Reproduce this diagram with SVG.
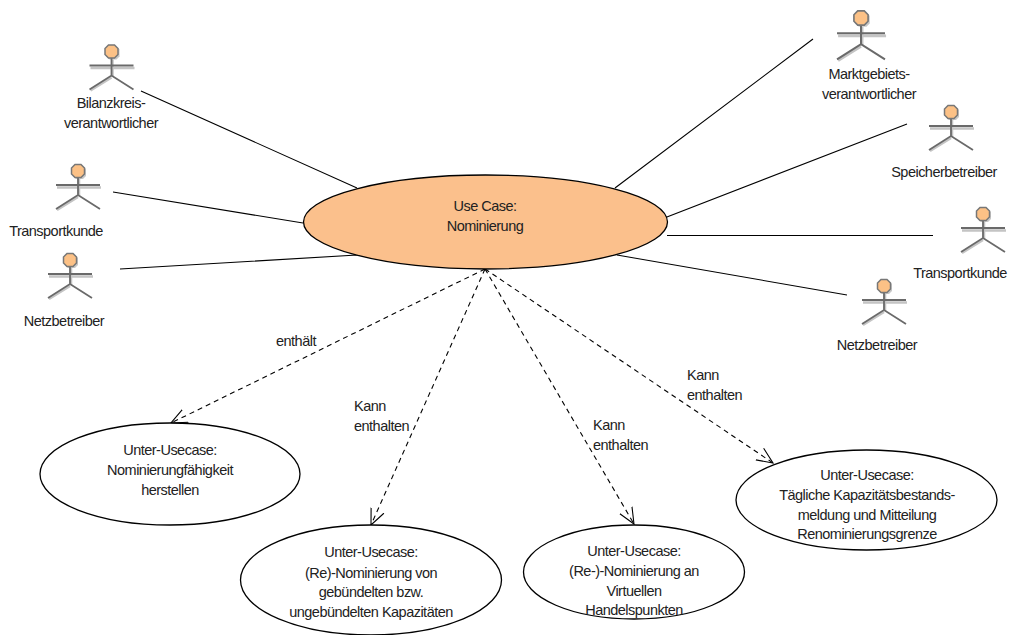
<svg xmlns="http://www.w3.org/2000/svg" width="1011" height="635" viewBox="0 0 1011 635">
<style>
text{font-family:"Liberation Sans",Arial,sans-serif;font-size:14.500px;fill:#222;text-anchor:middle;letter-spacing:-.52px}
.l{text-anchor:start}
.c{fill:none;stroke:#000;stroke-width:1.1}
.d{stroke-dasharray:5 4;marker-end:url(#o)}
.e{fill:#fff;stroke:#000;stroke-width:1.3}
.s{fill:none;stroke:#c4c4c4;stroke-width:2.500}
.a{fill:none;stroke:#6a6a6a;stroke-width:1.8}
.h{fill:#fcc186;stroke:#777;stroke-width:1.5}
.hs{fill:#c8c8c8}
</style>
<defs>
<marker id="o" markerUnits="userSpaceOnUse" markerWidth="20" markerHeight="20" refX="16" refY="8" orient="auto" viewBox="0 0 20 16"><path d="M0 1L16 8L0 15" fill="none" stroke="#000" stroke-width="1.1"/></marker>
<g id="actor">
<path class="hs" d="M-2-5H5L8-2V5L5 8H-2L-5 5V-2Z"/>
<path class="s" d="M-21 16.500H23M1 8V25M-21 39L0 26"/>
<path class="a" d="M-22 14H22M0 6V24M-22 38L0 24L22 38"/>
<path class="h" d="M-3-6.500H3L6.500-3V3L3 6.500H-3L-6.500 3V-3Z"/>
</g>
</defs>
<g id="connectors">
<path class="c" d="M141 91L357 188M113 192L303 223M120 269L357 255M813 39L615 188M907 124L654 222M933 235.500L667 235.500M847 295L617 255"/>
<path class="c d" d="M485 269L171 423"/>
<path class="c d" d="M485 269L371 525"/>
<path class="c d" d="M485 269L634 524"/>
<path class="c d" d="M485 269L773 463"/>
</g>
<g id="uc-main"><ellipse cx="485.500" cy="222" rx="182" ry="47" fill="#fbc08c" stroke="#000" stroke-width="1.3"/><text x="485" y="211">Use Case:</text><text x="485" y="231">Nominierung</text></g>
<g id="uc-1"><ellipse class="e" cx="170" cy="474" rx="130" ry="51"/><text x="170" y="455">Unter-Usecase:</text><text x="170" y="475">Nominierungfähigkeit</text><text x="170" y="495">herstellen</text></g>
<g id="uc-2"><ellipse class="e" cx="371" cy="580" rx="130.500" ry="55"/><text x="371" y="557">Unter-Usecase:</text><text x="371" y="578">(Re)-Nominierung von</text><text x="371" y="597">gebündelten bzw.</text><text x="371" y="617">ungebündelten Kapazitäten</text></g>
<g id="uc-3"><ellipse class="e" cx="634" cy="572" rx="110.500" ry="47"/><text x="634" y="556">Unter-Usecase:</text><text x="634" y="576">(Re-)-Nominierung an</text><text x="634" y="596">Virtuellen</text><text x="634" y="615">Handelspunkten</text></g>
<g id="uc-4"><ellipse class="e" cx="866.500" cy="500" rx="130.500" ry="50"/><text x="867" y="480">Unter-Usecase:</text><text x="867" y="500">Tägliche Kapazitätsbestands-</text><text x="867" y="520">meldung und Mitteilung</text><text x="867" y="539">Renominierungsgrenze</text></g>
<g id="actor-bilanz"><use href="#actor" x="111.500" y="51.500"/><text x="111" y="108">Bilanzkreis-</text><text x="111" y="128">verantwortlicher</text></g>
<g id="actor-transport-l"><use href="#actor" x="78" y="171"/><text x="56" y="236">Transportkunde</text></g>
<g id="actor-netz-l"><use href="#actor" x="70" y="260"/><text x="64" y="326">Netzbetreiber</text></g>
<g id="actor-markt"><use href="#actor" transform="translate(861 18) scale(1.09)"/><text x="869" y="79">Marktgebiets-</text><text x="869" y="99">verantwortlicher</text></g>
<g id="actor-speicher"><use href="#actor" x="951" y="112"/><text x="944" y="177">Speicherbetreiber</text></g>
<g id="actor-transport-r"><use href="#actor" x="983" y="214"/><text x="960" y="278">Transportkunde</text></g>
<g id="actor-netz-r"><use href="#actor" x="884" y="286"/><text x="877" y="350">Netzbetreiber</text></g>
<g id="labels"><text class="l" x="276" y="346">enthält</text><text class="l" x="354" y="411">Kann</text><text class="l" x="354" y="431">enthalten</text><text class="l" x="593" y="430">Kann</text><text class="l" x="593" y="450">enthalten</text><text class="l" x="687" y="380">Kann</text><text class="l" x="687" y="400">enthalten</text></g>
</svg>
